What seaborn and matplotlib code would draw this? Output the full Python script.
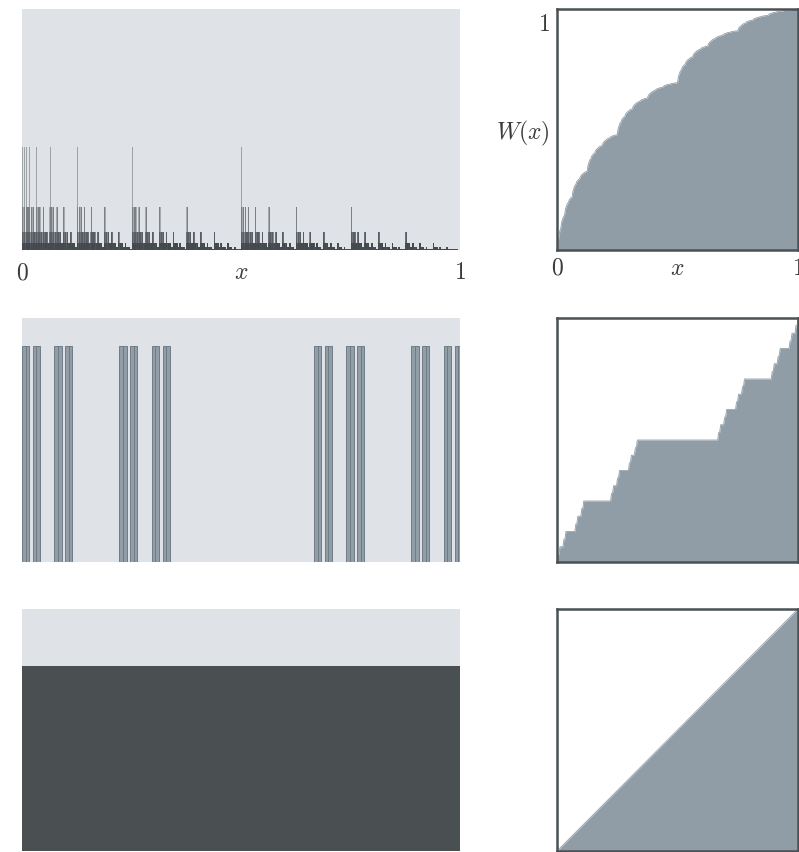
import numpy as np
import seaborn as sns
import matplotlib
matplotlib.use("Agg")
import matplotlib.pyplot as plt

# ---- values ----
# top row: spike level of each of 256 equal bins on [0, 1] (1 = tallest)
spike_levels = (
    "1112122312232334"
    "1223233423343445"
    "1223233423343445"
    "2334344534454556"
    "1223233423343445"
    "2334344534454556"
    "2334344534454556"
    "3445455645565667"
    "1223233423343445"
    "2334344534454556"
    "2334344534454556"
    "3445455645565667"
    "2334344534454556"
    "3445455645565667"
    "3445455645565667"
    "4556566756676778"
)
level_heights = [103, 43, 18, 7.5, 3.2, 1.4, 0.6, 0.25]

# middle row: left ends of the 32 bars, in units of 1/243
cantor_starts = [0, 2, 6, 8, 18, 20, 24, 26, 54, 56, 60, 62, 72, 74, 78, 80,
                 162, 164, 168, 170, 180, 182, 186, 188,
                 216, 218, 222, 224, 234, 236, 240, 242]
cantor_height = 7.6

# bottom row: flat density on [0, 1]
uniform_center = [0.5]
uniform_height = [1.0]

BG = "#dfe2e7"
DARK = "#3c4347"
SLATE = "#919da7"
STRIPE = "#6f7c86"
FILL = "#909da7"
EDGE = "#4a5155"
TEXT = "#3a3a3a"

sns.set_theme(style="white")
plt.rcParams["mathtext.fontset"] = "cm"
plt.rcParams["font.family"] = ["DejaVu Serif"]


def density_panel(ax, x, h, width, color, alpha=1.0, edge=None, lw=0):
    sns.barplot(x=x, y=h, native_scale=True, width=width, color=color,
                saturation=1, linewidth=lw, edgecolor=edge, errorbar=None,
                alpha=alpha, ax=ax)


def style_left(ax, ymax):
    ax.set_facecolor(BG)
    ax.set_xlim(0, 1)
    ax.set_ylim(0, ymax)
    ax.set_xlabel("")
    ax.set_ylabel("")
    ax.set_xticks([])
    ax.set_yticks([])
    sns.despine(ax=ax, left=True, bottom=True)


def cdf_panel(ax, x, w):
    ax.fill_between(x, w, color=FILL, linewidth=0)
    sns.lineplot(x=x, y=w, color=FILL, linewidth=0.6, estimator=None,
                 sort=False, ax=ax)
    ax.set_facecolor("white")
    ax.set_xlim(0, 1)
    ax.set_ylim(0, 1)
    ax.set_xlabel("")
    ax.set_ylabel("")
    ax.set_xticks([])
    ax.set_yticks([])
    for s in ax.spines.values():
        s.set_visible(True)
        s.set_color(EDGE)
        s.set_linewidth(1.8)


fig = plt.figure(figsize=(7.99, 8.52), dpi=100)
W_PX, H_PX = 799, 852
rows = [(250, 241), (562, 244), (851, 242)]  # bottom pixel, height
axes = []
for yb, hh in rows:
    b = 1 - yb / H_PX
    h = hh / H_PX
    axl = fig.add_axes([22 / W_PX, b, 438 / W_PX, h])
    axr = fig.add_axes([557 / W_PX, b, 241 / W_PX, h])
    axes.append((axl, axr))

# --- row 1: spiky measure ---
n_bins = len(spike_levels)
heights = np.array([level_heights[int(c) - 1] for c in spike_levels])
centers = (np.arange(n_bins) + 0.5) / n_bins
ax1, ax1r = axes[0]
# layered so the crowded bottom reads darker than the lone tall spikes
layers = [(None, 0.6, 0.4), (level_heights[1], 0.9, 0.35),
          (level_heights[2], 1.0, 0.55), (level_heights[3], 1.0, 0.75)]
for cap, wd, a in layers:
    hh = heights if cap is None else np.minimum(heights, cap)
    density_panel(ax1, centers, hh, wd, DARK, alpha=a)
style_left(ax1, 242)
edges = np.linspace(0, 1, n_bins + 1)
cdf1 = np.concatenate([[0], np.cumsum(heights)]) / heights.sum()
cdf_panel(ax1r, edges, cdf1)

# --- row 2: cantor-like bars ---
ax2, ax2r = axes[1]
starts = np.array(cantor_starts) / 243
density_panel(ax2, starts + 1 / 243, [cantor_height] * len(starts), 1.0,
              SLATE, edge=STRIPE, lw=0.7)
style_left(ax2, 8.6)
xs, ws, acc = [0.0], [0.0], 0.0
step = 1 / len(starts)
for s in starts:
    xs += [s, s + 1 / 243]
    ws += [acc, acc + step]
    acc += step
cdf_panel(ax2r, np.array(xs), np.array(ws))

# --- row 3: uniform ---
ax3, ax3r = axes[2]
density_panel(ax3, uniform_center, uniform_height, 1.0, "#4a4f52")
style_left(ax3, 1.305)
cdf_panel(ax3r, np.array([0.0, 1.0]), np.array([0.0, 1.0]))

# tick labels on the top row only
ax1.set_xticks([0, 0.5, 1], ["$0$", "$x$", "$1$"])
ax1.tick_params(axis="x", length=0, pad=8, labelsize=17, labelcolor=TEXT)
ax1r.set_xticks([0, 0.5, 1], ["$0$", "$x$", "$1$"])
ax1r.set_yticks([0.945, 0.5], ["$1$", "$W(x)$"])
ax1r.tick_params(axis="both", length=0, pad=5, labelsize=17, labelcolor=TEXT)

fig.savefig("out.png", dpi=100)
